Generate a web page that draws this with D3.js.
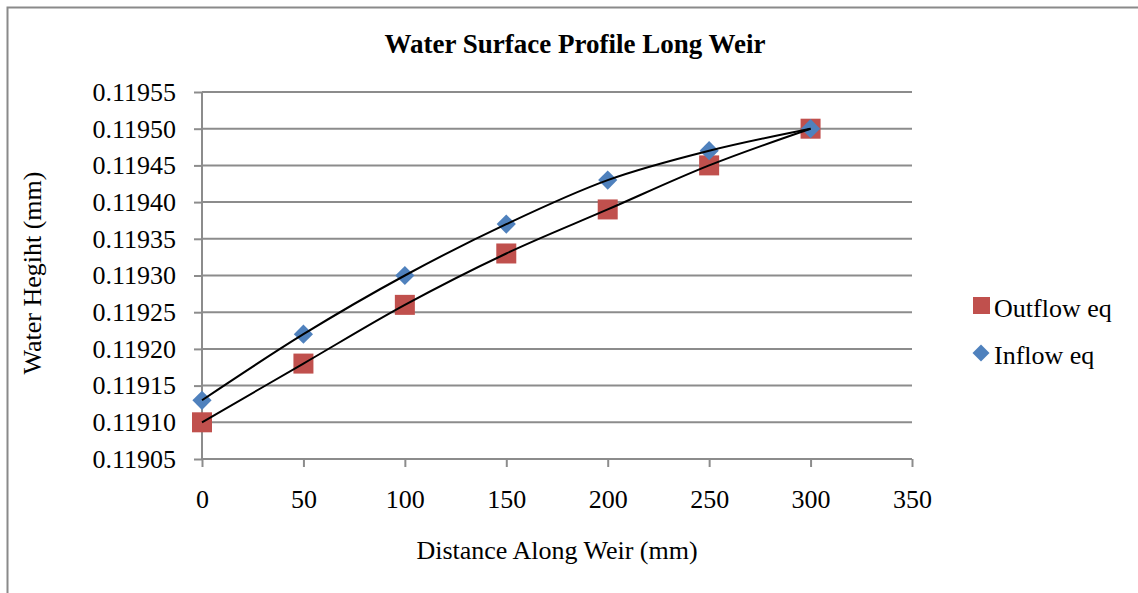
<!DOCTYPE html>
<html>
<head>
<meta charset="utf-8">
<script src="https://cdn.jsdelivr.net/npm/d3@7"></script>
<style>
  html, body { margin: 0; padding: 0; background: #fff; }
  svg { display: block; }
  svg text { font-family: "Liberation Serif", "Times New Roman", serif; fill: #000; }
</style>
</head>
<body>
<svg id="chart" width="1138" height="593"></svg>
<script>
// Water surface profile data (distance in mm, height in mm)
const distances = [0, 50, 100, 150, 200, 250, 300];
const outflowHeights = [0.11910, 0.11918, 0.11926, 0.11933, 0.11939, 0.11945, 0.11950];
const inflowHeights = [0.11913, 0.11922, 0.11930, 0.11937, 0.11943, 0.11947, 0.11950];
const xTicks = [0, 50, 100, 150, 200, 250, 300, 350];
const yTicks = [0.11905, 0.11910, 0.11915, 0.11920, 0.11925, 0.11930, 0.11935, 0.11940, 0.11945, 0.11950, 0.11955];
const seriesNames = ["Outflow eq", "Inflow eq"];

const svg = d3.select("#chart");
const W = 1138, H = 593;
const plot = { left: 202, right: 912, top: 92, bottom: 459 };
const fontSize = 26;

// Outer chart frame (extends past the right/bottom edge)
svg.append("rect")
  .attr("x", 7.5).attr("y", 7.5)
  .attr("width", W + 10).attr("height", H + 10)
  .attr("fill", "#fff").attr("stroke", "#8a8a8a").attr("stroke-width", 2);

const x = d3.scaleLinear().domain([0, 350]).range([plot.left, plot.right]);
const y = d3.scaleLinear().domain([0.11905, 0.11955]).range([plot.bottom, plot.top]);

const gridColor = "#8c8c8c";

// Horizontal gridlines
svg.append("g").selectAll("line").data(yTicks).join("line")
  .attr("x1", plot.left).attr("x2", plot.right)
  .attr("y1", d => y(d)).attr("y2", d => y(d))
  .attr("stroke", gridColor).attr("stroke-width", 2);

// Y axis
const yAxis = svg.append("g")
  .attr("transform", `translate(${plot.left},0)`)
  .call(d3.axisLeft(y).tickValues(yTicks).tickFormat(d3.format(".5f")).tickSize(8).tickPadding(18));
yAxis.attr("font-family", null).attr("font-size", fontSize);
yAxis.select(".domain").attr("stroke", gridColor).attr("stroke-width", 2)
  .attr("d", `M0,${plot.top}V${plot.bottom}`);
yAxis.selectAll(".tick line").attr("stroke", gridColor).attr("stroke-width", 2);

// X axis
const xAxis = svg.append("g")
  .attr("transform", `translate(0,${plot.bottom})`)
  .call(d3.axisBottom(x).tickValues(xTicks).tickSize(8).tickPadding(23));
xAxis.attr("font-family", null).attr("font-size", fontSize);
xAxis.select(".domain").attr("stroke", gridColor).attr("stroke-width", 2)
  .attr("d", `M${plot.left},0H${plot.right}`);
xAxis.selectAll(".tick line").attr("stroke", gridColor).attr("stroke-width", 2);

// Series points
const outflow = distances.map((d, i) => [d, outflowHeights[i]]);
const inflow = distances.map((d, i) => [d, inflowHeights[i]]);

const sq = 20;
svg.append("g").selectAll("rect").data(outflow).join("rect")
  .attr("x", d => x(d[0]) - sq / 2).attr("y", d => y(d[1]) - sq / 2)
  .attr("width", sq).attr("height", sq)
  .attr("fill", "#C0504D");

const diamond = d3.symbol().type(d3.symbolDiamond2).size(235);
svg.append("g").selectAll("path").data(inflow).join("path")
  .attr("transform", d => `translate(${x(d[0])},${y(d[1])})`)
  .attr("d", diamond)
  .attr("fill", "#4F81BD");

// Smoothed connecting lines
const line = d3.line().x(d => x(d[0])).y(d => y(d[1])).curve(d3.curveCatmullRom.alpha(0.5));
[outflow, inflow].forEach(s => {
  svg.append("path").datum(s).attr("d", line)
    .attr("fill", "none").attr("stroke", "#000").attr("stroke-width", 2);
});

// Title and axis labels
svg.append("text").attr("x", 575).attr("y", 53).attr("text-anchor", "middle")
  .attr("font-size", 27).attr("font-weight", "bold").text("Water Surface Profile Long Weir");
svg.append("text").attr("x", 557).attr("y", 559).attr("text-anchor", "middle")
  .attr("font-size", fontSize).text("Distance Along Weir (mm)");
svg.append("text").attr("transform", "translate(41,273) rotate(-90)").attr("text-anchor", "middle")
  .attr("font-size", fontSize).text("Water Hegiht (mm)");

// Legend
const legend = svg.append("g");
legend.append("rect").attr("x", 973).attr("y", 297).attr("width", 17).attr("height", 17).attr("fill", "#C0504D");
legend.append("path").attr("transform", "translate(981,353)")
  .attr("d", d3.symbol().type(d3.symbolDiamond2).size(185)).attr("fill", "#4F81BD");
legend.selectAll("text").data(seriesNames).join("text")
  .attr("x", 994).attr("y", (d, i) => 317 + i * 47)
  .attr("font-size", fontSize).text(d => d);
</script>
</body>
</html>
